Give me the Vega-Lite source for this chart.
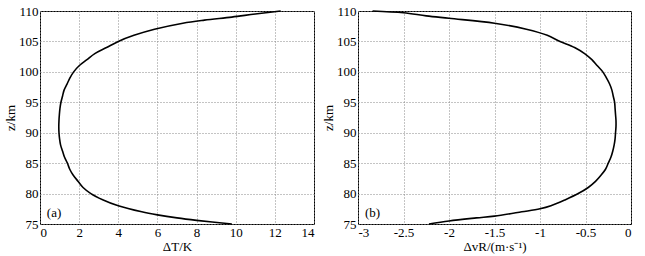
{
  "$schema": "https://vega.github.io/schema/vega-lite/v6.json",
  "background": "white",
  "padding": {"left": 4, "top": 4, "right": 3, "bottom": 2},
  "spacing": 7,
  "config": {
    "font": "Liberation Serif",
    "view": {"stroke": "black", "strokeWidth": 1},
    "text": {"font": "Liberation Serif"},
    "axis": {
      "labelFont": "Liberation Serif", "titleFont": "Liberation Serif",
      "labelFontSize": 13, "labelColor": "black",
      "titleFontSize": 13, "titleFontWeight": "normal", "titleColor": "black",
      "domain": false, "ticks": false, "labelPadding": 2, "labelOverlap": false,
      "tickCount": 20,
      "grid": true, "gridColor": "#888", "gridDash": [1, 2], "gridWidth": 1
    }
  },
  "datasets": {
    "dT": [
      {"z": 75, "v": 9.8}, {"z": 75.6, "v": 8.0}, {"z": 76, "v": 7.0}, {"z": 76.5, "v": 6.0},
      {"z": 77, "v": 5.2}, {"z": 78, "v": 4.0}, {"z": 79, "v": 3.2}, {"z": 80, "v": 2.6},
      {"z": 81, "v": 2.2}, {"z": 82, "v": 1.95}, {"z": 83, "v": 1.7}, {"z": 84, "v": 1.52},
      {"z": 85, "v": 1.4}, {"z": 86, "v": 1.25}, {"z": 87, "v": 1.15}, {"z": 88, "v": 1.05},
      {"z": 89, "v": 1.0}, {"z": 90, "v": 0.97}, {"z": 91, "v": 0.96}, {"z": 92, "v": 0.97},
      {"z": 93, "v": 0.99}, {"z": 94, "v": 1.02}, {"z": 95, "v": 1.07}, {"z": 96, "v": 1.15},
      {"z": 97, "v": 1.23}, {"z": 98, "v": 1.38}, {"z": 99, "v": 1.53}, {"z": 100, "v": 1.72},
      {"z": 101, "v": 2.0}, {"z": 102, "v": 2.4}, {"z": 103, "v": 2.8}, {"z": 104, "v": 3.4},
      {"z": 105, "v": 4.0}, {"z": 106, "v": 4.8}, {"z": 107, "v": 5.85}, {"z": 108, "v": 7.3},
      {"z": 108.5, "v": 8.4}, {"z": 109, "v": 9.8}, {"z": 109.5, "v": 11.0}, {"z": 110, "v": 12.3}
    ],
    "dV": [
      {"z": 75, "v": -2.22}, {"z": 75.5, "v": -2.0}, {"z": 76, "v": -1.7}, {"z": 76.3, "v": -1.5},
      {"z": 77, "v": -1.2}, {"z": 77.5, "v": -1.0}, {"z": 78, "v": -0.88}, {"z": 79, "v": -0.72},
      {"z": 80, "v": -0.58}, {"z": 81, "v": -0.47}, {"z": 82, "v": -0.39}, {"z": 83, "v": -0.33},
      {"z": 84, "v": -0.28}, {"z": 85, "v": -0.25}, {"z": 86, "v": -0.22}, {"z": 87, "v": -0.2},
      {"z": 88, "v": -0.185}, {"z": 89, "v": -0.175}, {"z": 90, "v": -0.17}, {"z": 91, "v": -0.165},
      {"z": 92, "v": -0.165}, {"z": 93, "v": -0.17}, {"z": 94, "v": -0.175}, {"z": 95, "v": -0.18},
      {"z": 96, "v": -0.195}, {"z": 97, "v": -0.21}, {"z": 98, "v": -0.235}, {"z": 99, "v": -0.27},
      {"z": 100, "v": -0.31}, {"z": 101, "v": -0.37}, {"z": 102, "v": -0.43}, {"z": 103, "v": -0.51},
      {"z": 104, "v": -0.62}, {"z": 105, "v": -0.78}, {"z": 106, "v": -0.92}, {"z": 107, "v": -1.15},
      {"z": 108, "v": -1.5}, {"z": 108.8, "v": -2.0}, {"z": 109.2, "v": -2.25}, {"z": 109.7, "v": -2.5},
      {"z": 110, "v": -2.84}
    ],
    "labA": [{"x": 0.72, "z": 76.8, "t": "(a)"}],
    "labB": [{"x": -2.84, "z": 76.8, "t": "(b)"}]
  },
  "hconcat": [
    {
      "width": 274, "height": 213,
      "layer": [
        {
          "data": {"name": "dT"},
          "mark": {"type": "line", "color": "black", "strokeWidth": 1.6, "interpolate": "catmull-rom"},
          "encoding": {
            "x": {"field": "v", "type": "quantitative", "title": "ΔT/K",
                  "scale": {"domain": [0, 14], "nice": false},
                  "axis": {"values": [0, 2, 4, 6, 8, 10, 12, 14], "tickCount": 20, "labelExpr": "toString(datum.value)", "titlePadding": 1, "labelOverlap": false}},
            "y": {"field": "z", "type": "quantitative", "title": "z/km",
                  "scale": {"domain": [75, 110], "nice": false},
                  "axis": {"values": [75, 80, 85, 90, 95, 100, 105, 110], "tickCount": 20, "labelExpr": "toString(datum.value)", "titlePadding": 1, "labelOverlap": false}},
            "order": {"field": "z", "type": "quantitative"}
          }
        },
        {
          "data": {"name": "labA"},
          "mark": {"type": "text", "fontSize": 13, "color": "black", "font": "Liberation Serif"},
          "encoding": {
            "x": {"field": "x", "type": "quantitative"},
            "y": {"field": "z", "type": "quantitative"},
            "text": {"field": "t"}
          }
        }
      ]
    },
    {
      "width": 273, "height": 213,
      "layer": [
        {
          "data": {"name": "dV"},
          "mark": {"type": "line", "color": "black", "strokeWidth": 1.6, "interpolate": "catmull-rom"},
          "encoding": {
            "x": {"field": "v", "type": "quantitative", "title": "ΔvR/(m·s⁻¹)",
                  "scale": {"domain": [-3, 0], "nice": false},
                  "axis": {"values": [-3, -2.5, -2, -1.5, -1, -0.5, 0], "tickCount": 20, "labelExpr": "toString(datum.value)", "titlePadding": 1, "labelOverlap": false}},
            "y": {"field": "z", "type": "quantitative", "title": "z/km",
                  "scale": {"domain": [75, 110], "nice": false},
                  "axis": {"values": [75, 80, 85, 90, 95, 100, 105, 110], "tickCount": 20, "labelExpr": "toString(datum.value)", "titlePadding": 1, "labelOverlap": false}},
            "order": {"field": "z", "type": "quantitative"}
          }
        },
        {
          "data": {"name": "labB"},
          "mark": {"type": "text", "fontSize": 13, "color": "black", "font": "Liberation Serif"},
          "encoding": {
            "x": {"field": "x", "type": "quantitative"},
            "y": {"field": "z", "type": "quantitative"},
            "text": {"field": "t"}
          }
        }
      ]
    }
  ]
}
